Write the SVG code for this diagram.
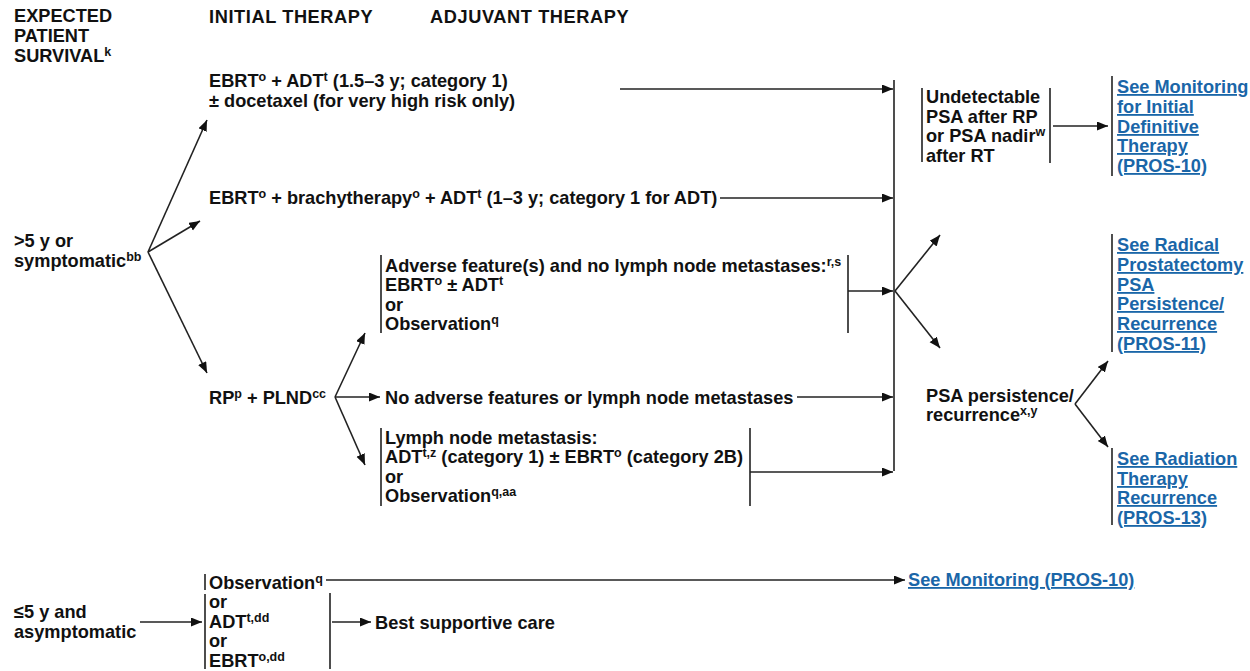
<svg xmlns="http://www.w3.org/2000/svg" width="1250" height="671" viewBox="0 0 1250 671">
<style>
text{font-family:"Liberation Sans",Arial,sans-serif;font-weight:bold;font-size:18.2px;fill:#111}
.hd{letter-spacing:0.6px}
.s{font-size:12.5px;baseline-shift:6px}
.lk{fill:#1a66a8;text-decoration:underline}
.br{stroke:#222;stroke-width:1.6;fill:none}
.ln{stroke:#222;stroke-width:1.6;fill:none}
.ar{stroke:#222;stroke-width:1.6;fill:none;marker-end:url(#ah)}
</style>
<defs>
<marker id="ah" markerUnits="userSpaceOnUse" markerWidth="12" markerHeight="10" refX="11" refY="4.5" orient="auto">
<path d="M0,0 L11,4.5 L0,9 Z" fill="#111"/>
</marker>
</defs>
<rect width="1250" height="671" fill="#fff"/>
<g id="headers">
<text x="14" y="22">EXPECTED</text>
<text x="14" y="42">PATIENT</text>
<text x="14" y="62">SURVIVAL<tspan class="s">k</tspan></text>
<text class="hd" x="209" y="23">INITIAL THERAPY</text>
<text class="hd" x="430" y="23">ADJUVANT THERAPY</text>
</g>
<g id="surv-long">
<text x="14" y="247">&gt;5 y or</text>
<text x="14" y="267">symptomatic<tspan class="s">bb</tspan></text>
</g>
<g id="ebrt-adt">
<text x="209" y="87">EBRT<tspan class="s">o</tspan> + ADT<tspan class="s">t</tspan> (1.5–3 y; category 1)</text>
<text x="209" y="107">± docetaxel (for very high risk only)</text>
</g>
<g id="ebrt-brachy">
<text x="209" y="204">EBRT<tspan class="s">o</tspan> + brachytherapy<tspan class="s">o</tspan> + ADT<tspan class="s">t</tspan> (1–3 y; category 1 for ADT)</text>
</g>
<g id="rp">
<text x="209" y="404">RP<tspan class="s">p</tspan> + PLND<tspan class="s">cc</tspan></text>
</g>
<g id="adverse">
<path class="br" d="M381,255 V333 M848,255 V333"/>
<text x="385" y="272">Adverse feature(s) and no lymph node metastases:<tspan class="s">r,s</tspan></text>
<text x="385" y="291">EBRT<tspan class="s">o</tspan> ± ADT<tspan class="s">t</tspan></text>
<text x="385" y="311">or</text>
<text x="385" y="330">Observation<tspan class="s">q</tspan></text>
</g>
<g id="no-adverse">
<text x="385" y="404">No adverse features or lymph node metastases</text>
</g>
<g id="lymph">
<path class="br" d="M381,428 V506 M750,428 V506"/>
<text x="385" y="444">Lymph node metastasis:</text>
<text x="385" y="463">ADT<tspan class="s">t,z</tspan> (category 1) ± EBRT<tspan class="s">o</tspan> (category 2B)</text>
<text x="385" y="483">or</text>
<text x="385" y="502">Observation<tspan class="s">q,aa</tspan></text>
</g>
<g id="undetectable">
<path class="br" d="M922,88 V162 M1050,88 V163"/>
<text x="926" y="103">Undetectable</text>
<text x="926" y="123">PSA after RP</text>
<text x="926" y="142">or PSA nadir<tspan class="s">w</tspan></text>
<text x="926" y="162">after RT</text>
</g>
<g id="link-monitoring-initial">
<path class="br" d="M1112,76 V176"/>
<text class="lk" x="1117" y="93">See Monitoring</text>
<text class="lk" x="1117" y="113">for Initial </text>
<text class="lk" x="1117" y="133">Definitive </text>
<text class="lk" x="1117" y="152">Therapy </text>
<text class="lk" x="1117" y="172">(PROS-10)</text>
</g>
<g id="psa-persistence">
<text x="926" y="402">PSA persistence/</text>
<text x="926" y="421">recurrence<tspan class="s">x,y</tspan></text>
</g>
<g id="link-rp">
<path class="br" d="M1112,234 V352"/>
<text class="lk" x="1117" y="251">See Radical </text>
<text class="lk" x="1117" y="271">Prostatectomy </text>
<text class="lk" x="1117" y="291">PSA </text>
<text class="lk" x="1117" y="310">Persistence/</text>
<text class="lk" x="1117" y="330">Recurrence </text>
<text class="lk" x="1117" y="350">(PROS-11)</text>
</g>
<g id="link-rt">
<path class="br" d="M1112,448 V525"/>
<text class="lk" x="1117" y="465">See Radiation </text>
<text class="lk" x="1117" y="485">Therapy </text>
<text class="lk" x="1117" y="504">Recurrence </text>
<text class="lk" x="1117" y="524">(PROS-13)</text>
</g>
<g id="surv-short">
<text x="14" y="618">≤5 y and</text>
<text x="14" y="638">asymptomatic</text>
</g>
<g id="palliative">
<path class="br" d="M205,574 V590 M205,594 V669 M330,593 V669"/>
<text x="209" y="589">Observation<tspan class="s">q</tspan></text>
<text x="209" y="608">or</text>
<text x="209" y="628">ADT<tspan class="s">t,dd</tspan></text>
<text x="209" y="647">or</text>
<text x="209" y="667">EBRT<tspan class="s">o,dd</tspan></text>
</g>
<g id="best-care">
<text x="375" y="629">Best supportive care</text>
</g>
<g id="link-monitoring">
<text class="lk" x="908" y="586">See Monitoring (PROS-10)</text>
</g>
<g id="connectors">
<path class="ln" d="M894,80 V471"/>
<path class="ar" d="M148,252 L207,120"/>
<path class="ar" d="M148,252 L200,221"/>
<path class="ar" d="M148,252 L207,373"/>
<path class="ar" d="M620,89 H893"/>
<path class="ar" d="M720,198 H893"/>
<path class="ar" d="M335,397 L365,333"/>
<path class="ar" d="M335,397 H380"/>
<path class="ar" d="M335,397 L365,465"/>
<path class="ar" d="M848,291 H893"/>
<path class="ar" d="M797,397 H893"/>
<path class="ar" d="M750,472 H893"/>
<path class="ar" d="M895,291 L940,235"/>
<path class="ar" d="M895,291 L940,348"/>
<path class="ar" d="M1053,126 H1108"/>
<path class="ar" d="M1075,404 L1108,361"/>
<path class="ar" d="M1075,404 L1108,447"/>
<path class="ar" d="M140,622 H202"/>
<path class="ar" d="M326,580 H905"/>
<path class="ar" d="M332,622 H371"/>
</g>
</svg>
